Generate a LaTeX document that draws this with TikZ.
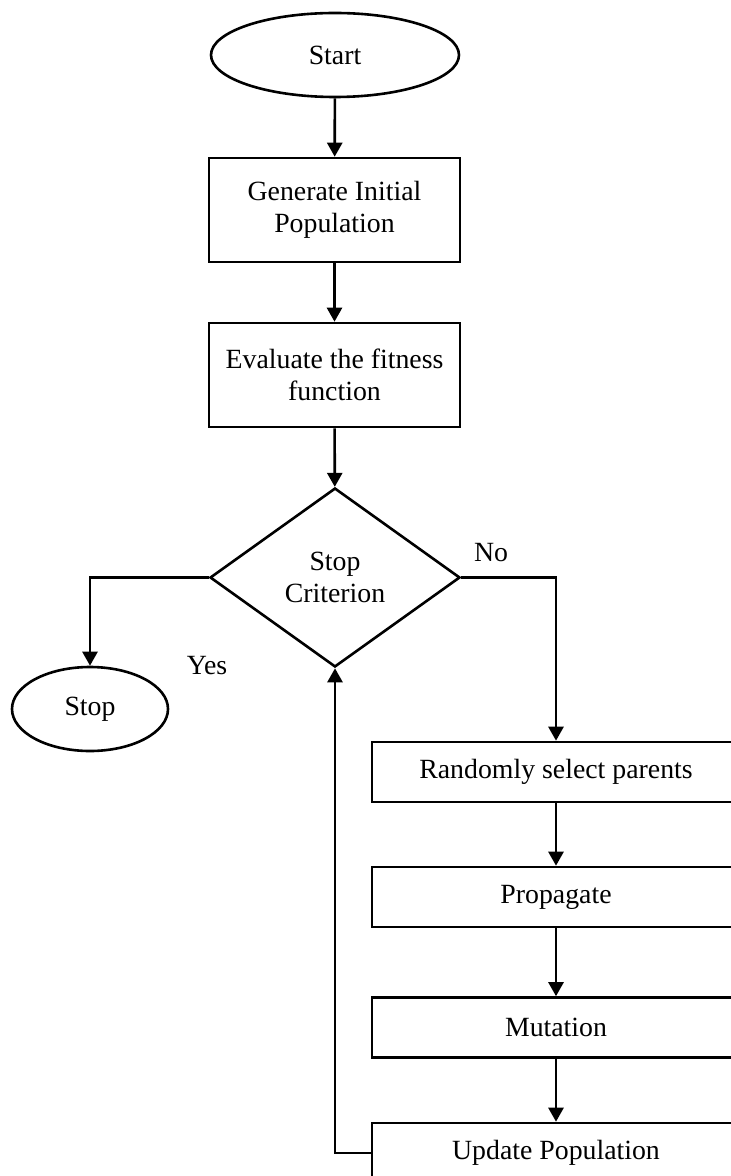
\documentclass[tikz,border=0pt]{standalone}
\usepackage{fontspec}
\setmainfont{Liberation Serif}
\usepackage{tikz}
\usetikzlibrary{arrows.meta,shapes.geometric}
\tikzset{
  term/.style   ={draw, ellipse, inner sep=0pt, line width=1.3pt,
                  font=\fontsize{13.9}{16}\selectfont},
  proc/.style   ={draw, rectangle, inner sep=0pt, line width=1.3pt,
                  align=center, font=\fontsize{13.9}{16}\selectfont},
  decide/.style ={draw, diamond, inner sep=0pt, line width=1.3pt,
                  align=center, font=\fontsize{13.9}{16}\selectfont},
  arr/.style    ={-{Triangle[length=7pt,width=7.5pt]}, line width=1.3pt},
  lbl/.style    ={inner sep=0pt, font=\fontsize{13.9}{16}\selectfont},
}

\begin{document}
\begin{tikzpicture}[x=0.5pt, y=-0.5pt]
  \useasboundingbox (0,0) rectangle (731,1176);
  \clip (0,0) rectangle (731,1176);
  \node[term, minimum width=124pt, minimum height=42pt] (start) at (335,55) {Start};
  \node[proc, minimum width=125.5pt, minimum height=52pt] (gen) at (334.5,210)
    {Generate Initial\\Population};
  \node[proc, minimum width=125.5pt, minimum height=52pt] (eval) at (334.5,375)
    {Evaluate the fitness\\function};
  \node[decide, minimum width=125pt, minimum height=89.5pt] (crit) at (335,577.5)
    {Stop\\Criterion};
  \node[term, minimum width=78pt, minimum height=42pt] (stop) at (90,709) {Stop};
  \node[proc, minimum width=184pt, minimum height=30pt] (sel) at (556,772)
    {Randomly select parents};
  \node[proc, minimum width=184pt, minimum height=30pt] (prop) at (556,897)
    {Propagate};
  \node[proc, minimum width=184pt, minimum height=30pt] (mut) at (556,1027.5)
    {Mutation};
  \node[proc, minimum width=184pt, minimum height=30pt] (upd) at (556,1153)
    {Update Population};
  \node[lbl] (yes) at (207,666) {Yes};
  \node[lbl] (no) at (491,553) {No};

  \draw[arr] (start) -- (gen);
  \draw[arr] (gen) -- (eval);
  \draw[arr] (eval) -- (crit);
  \draw[arr] (crit.west) -| (stop.north);
  \draw[arr] (crit.east) -| (sel.north);
  \draw[arr] (sel) -- (prop);
  \draw[arr] (prop) -- (mut);
  \draw[arr] (mut) -- (upd);
  \draw[arr] (upd.west) -| (crit.south);
\end{tikzpicture}
\end{document}
